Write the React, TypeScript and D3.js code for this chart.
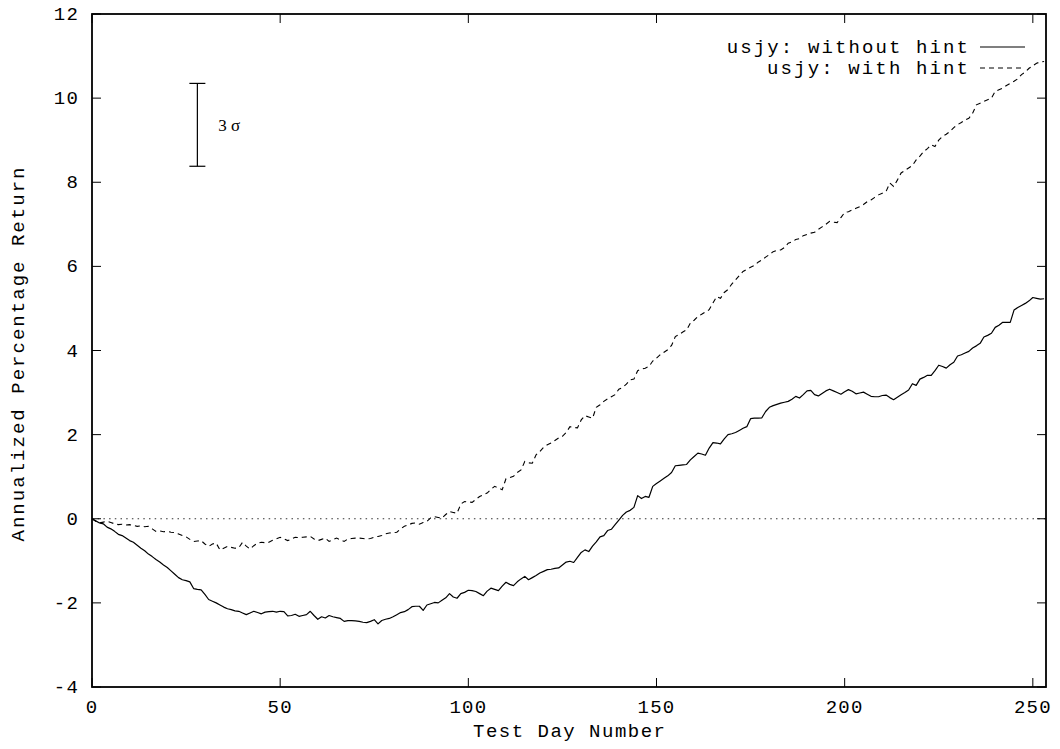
import React from "react";
import * as d3 from "d3";

// Daily cumulative annualized return (%) over the test period, days 0..253
const withoutHint: number[] = [
  0.00, -0.05, -0.10, -0.12, -0.20, -0.24, -0.30, -0.37, -0.40, -0.46,
  -0.52, -0.56, -0.63, -0.70, -0.76, -0.84, -0.90, -0.97, -1.03, -1.10,
  -1.16, -1.24, -1.32, -1.40, -1.45, -1.47, -1.50, -1.66, -1.68, -1.69,
  -1.80, -1.92, -1.96, -2.00, -2.05, -2.10, -2.14, -2.16, -2.19, -2.20,
  -2.24, -2.28, -2.24, -2.20, -2.23, -2.26, -2.22, -2.21, -2.20, -2.22,
  -2.20, -2.21, -2.31, -2.30, -2.27, -2.32, -2.30, -2.28, -2.20, -2.30,
  -2.39, -2.33, -2.36, -2.30, -2.33, -2.35, -2.37, -2.44, -2.42, -2.42,
  -2.43, -2.44, -2.46, -2.47, -2.44, -2.40, -2.50, -2.42, -2.39, -2.37,
  -2.33, -2.28, -2.23, -2.21, -2.16, -2.09, -2.08, -2.08, -2.18, -2.05,
  -2.02, -1.99, -2.00, -1.94, -1.88, -1.78, -1.86, -1.89, -1.78, -1.75,
  -1.70, -1.71, -1.73, -1.78, -1.83, -1.72, -1.65, -1.68, -1.71, -1.60,
  -1.51, -1.56, -1.59, -1.50, -1.43, -1.37, -1.45, -1.40, -1.35, -1.29,
  -1.25, -1.21, -1.20, -1.18, -1.17, -1.10, -1.03, -1.01, -1.04, -0.92,
  -0.80, -0.74, -0.78, -0.65, -0.55, -0.43, -0.40, -0.28, -0.25, -0.14,
  -0.03, 0.08, 0.16, 0.20, 0.27, 0.55, 0.48, 0.53, 0.51, 0.77,
  0.84, 0.90, 0.96, 1.02, 1.10, 1.26, 1.27, 1.28, 1.29, 1.40,
  1.48, 1.56, 1.54, 1.51, 1.68, 1.81, 1.80, 1.78, 1.90, 2.00,
  2.02, 2.05, 2.10, 2.15, 2.19, 2.38, 2.39, 2.39, 2.40, 2.55,
  2.65, 2.69, 2.72, 2.75, 2.77, 2.79, 2.84, 2.91, 2.87, 2.95,
  3.04, 3.05, 2.95, 2.92, 2.98, 3.04, 3.08, 3.04, 3.00, 2.96,
  3.02, 3.07, 3.03, 2.97, 2.99, 3.01, 2.96, 2.91, 2.90, 2.90,
  2.93, 2.94, 2.88, 2.83, 2.89, 2.95, 3.00, 3.06, 3.21, 3.17,
  3.32, 3.36, 3.41, 3.41, 3.52, 3.65, 3.62, 3.58, 3.66, 3.72,
  3.87, 3.90, 3.94, 3.98, 4.06, 4.11, 4.17, 4.32, 4.36, 4.41,
  4.55, 4.60, 4.67, 4.67, 4.67, 4.96, 5.02, 5.07, 5.12, 5.18,
  5.26, 5.24, 5.22, 5.23,
];

const withHint: number[] = [
  0.00, -0.06, -0.10, -0.08, -0.06, -0.09, -0.12, -0.14, -0.13, -0.15,
  -0.14, -0.16, -0.18, -0.17, -0.19, -0.18, -0.24, -0.30, -0.29, -0.31,
  -0.30, -0.32, -0.33, -0.36, -0.40, -0.43, -0.49, -0.54, -0.53, -0.52,
  -0.60, -0.66, -0.60, -0.58, -0.74, -0.70, -0.66, -0.68, -0.70, -0.69,
  -0.56, -0.65, -0.72, -0.64, -0.58, -0.56, -0.57, -0.56, -0.51, -0.48,
  -0.44, -0.48, -0.52, -0.48, -0.44, -0.45, -0.44, -0.43, -0.42, -0.48,
  -0.52, -0.49, -0.46, -0.54, -0.50, -0.46, -0.50, -0.54, -0.48, -0.47,
  -0.46, -0.46, -0.47, -0.48, -0.47, -0.44, -0.42, -0.40, -0.36, -0.34,
  -0.33, -0.32, -0.24, -0.18, -0.15, -0.11, -0.10, -0.13, -0.09, -0.06,
  0.02, 0.05, 0.03, 0.02, 0.10, 0.17, 0.15, 0.13, 0.35, 0.41,
  0.40, 0.39, 0.46, 0.53, 0.57, 0.61, 0.70, 0.77, 0.73, 0.69,
  0.95, 0.98, 1.01, 1.10, 1.16, 1.36, 1.33, 1.32, 1.52, 1.60,
  1.70, 1.76, 1.80, 1.86, 1.92, 1.96, 2.05, 2.19, 2.17, 2.16,
  2.35, 2.45, 2.42, 2.39, 2.65, 2.71, 2.79, 2.85, 2.90, 2.95,
  3.08, 3.12, 3.20, 3.30, 3.32, 3.52, 3.56, 3.58, 3.62, 3.75,
  3.82, 3.90, 3.96, 4.02, 4.12, 4.33, 4.38, 4.44, 4.49, 4.65,
  4.72, 4.81, 4.86, 4.92, 4.97, 5.13, 5.28, 5.24, 5.38, 5.45,
  5.58, 5.68, 5.78, 5.88, 5.93, 5.98, 6.02, 6.10, 6.15, 6.22,
  6.28, 6.35, 6.38, 6.39, 6.45, 6.55, 6.58, 6.64, 6.66, 6.73,
  6.76, 6.79, 6.81, 6.88, 6.94, 7.00, 7.07, 7.05, 7.04, 7.16,
  7.28, 7.30, 7.34, 7.38, 7.42, 7.47, 7.54, 7.58, 7.64, 7.70,
  7.74, 7.78, 7.98, 7.90, 8.05, 8.22, 8.28, 8.34, 8.40, 8.53,
  8.62, 8.73, 8.80, 8.89, 8.85, 9.00, 9.09, 9.14, 9.21, 9.30,
  9.37, 9.42, 9.48, 9.52, 9.64, 9.84, 9.88, 9.92, 9.96, 10.00,
  10.16, 10.20, 10.24, 10.30, 10.35, 10.40, 10.46, 10.56, 10.62, 10.71,
  10.77, 10.83, 10.86, 10.87,
];

const xTicks: number[] = [0, 50, 100, 150, 200, 250];
const yTicks: number[] = [-4, -2, 0, 2, 4, 6, 8, 10, 12];

const seriesLabels: string[] = ["usjy: without hint", "usjy: with hint"];

// 3-sigma reference bar: day position and value span
const sigmaDay = 28;
const sigmaLow = 8.38;
const sigmaHigh = 10.35;

const W = 1060;
const H = 749;
const margin = { left: 92, right: 14, top: 14, bottom: 62 };
const mono = "'Liberation Mono', 'Courier New', monospace";

export default function App() {
  const x = d3
    .scaleLinear()
    .domain([0, 253.5])
    .range([margin.left, W - margin.right]);
  const y = d3
    .scaleLinear()
    .domain([-4, 12])
    .range([H - margin.bottom, margin.top]);

  const line = d3
    .line<number>()
    .x((_, i) => x(i))
    .y((v) => y(v));

  const x0 = x.range()[0];
  const x1 = x.range()[1];
  const y0 = y.range()[0];
  const y1 = y.range()[1];
  const tick = 9;

  const legendEndX = 968;
  const legendY = [47, 68];

  return (
    <svg
      width={W}
      height={H}
      style={{ position: "absolute", left: 0, top: 0, background: "#fff" }}
      fontFamily={mono}
    >
      <rect x={0} y={0} width={W} height={H} fill="#fff" />

      {/* zero reference line */}
      <line
        x1={x0}
        x2={x1}
        y1={y(0)}
        y2={y(0)}
        stroke="#333"
        strokeWidth={1}
        strokeDasharray="1.5,4.2"
      />

      {/* ticks, mirrored on all four sides */}
      {xTicks.map((t) => (
        <g key={"xt" + t}>
          <line x1={x(t)} x2={x(t)} y1={y0} y2={y0 - tick} stroke="#000" strokeWidth={1} />
          <line x1={x(t)} x2={x(t)} y1={y1} y2={y1 + tick} stroke="#000" strokeWidth={1} />
          <text
            x={x(t)}
            y={y0 + 26}
            textAnchor="middle"
            fontSize={19}
            letterSpacing={1.2}
          >
            {t}
          </text>
        </g>
      ))}
      {yTicks.map((t) => (
        <g key={"yt" + t}>
          <line x1={x0} x2={x0 + tick} y1={y(t)} y2={y(t)} stroke="#000" strokeWidth={1} />
          <line x1={x1} x2={x1 - tick} y1={y(t)} y2={y(t)} stroke="#000" strokeWidth={1} />
          <text
            x={79}
            y={y(t) + 6}
            textAnchor="end"
            fontSize={19}
            letterSpacing={1.2}
          >
            {t}
          </text>
        </g>
      ))}

      {/* series */}
      <path
        d={line(withoutHint) ?? ""}
        fill="none"
        stroke="#000"
        strokeWidth={1.2}
        strokeLinejoin="round"
      />
      <path
        d={line(withHint) ?? ""}
        fill="none"
        stroke="#000"
        strokeWidth={1.1}
        strokeDasharray="5,4"
      />

      {/* frame */}
      <rect
        x={x0}
        y={y1}
        width={x1 - x0}
        height={y0 - y1}
        fill="none"
        stroke="#000"
        strokeWidth={1.8}
      />

      {/* axis titles */}
      <text
        x={(x0 + x1) / 2}
        y={H - 12}
        textAnchor="middle"
        fontSize={19}
        textLength={192}
        lengthAdjust="spacing"
      >
        Test Day Number
      </text>
      <text
        transform={`translate(24, ${(y0 + y1) / 2 + 4}) rotate(-90)`}
        textAnchor="middle"
        fontSize={19}
        textLength={374}
        lengthAdjust="spacing"
      >
        Annualized Percentage Return
      </text>

      {/* legend */}
      {seriesLabels.map((label, i) => (
        <g key={label}>
          <text
            x={legendEndX}
            y={legendY[i] + 6}
            textAnchor="end"
            fontSize={19}
            textLength={label.length * 13.4}
            lengthAdjust="spacing"
          >
            {label}
          </text>
          <line
            x1={980}
            x2={1025}
            y1={legendY[i]}
            y2={legendY[i]}
            stroke="#000"
            strokeWidth={1.1}
            strokeDasharray={i === 1 ? "5,4" : undefined}
          />
        </g>
      ))}

      {/* 3 sigma bar */}
      <g stroke="#000" strokeWidth={1.2}>
        <line x1={x(sigmaDay)} x2={x(sigmaDay)} y1={y(sigmaLow)} y2={y(sigmaHigh)} />
        <line x1={x(sigmaDay) - 8} x2={x(sigmaDay) + 8} y1={y(sigmaLow)} y2={y(sigmaLow)} />
        <line x1={x(sigmaDay) - 8} x2={x(sigmaDay) + 8} y1={y(sigmaHigh)} y2={y(sigmaHigh)} />
      </g>
      <text
        x={x(sigmaDay) + 21}
        y={(y(sigmaLow) + y(sigmaHigh)) / 2 + 6}
        fontFamily="'Liberation Serif', 'Times New Roman', serif"
        fontSize={17}
      >
        3 σ
      </text>
    </svg>
  );
}
